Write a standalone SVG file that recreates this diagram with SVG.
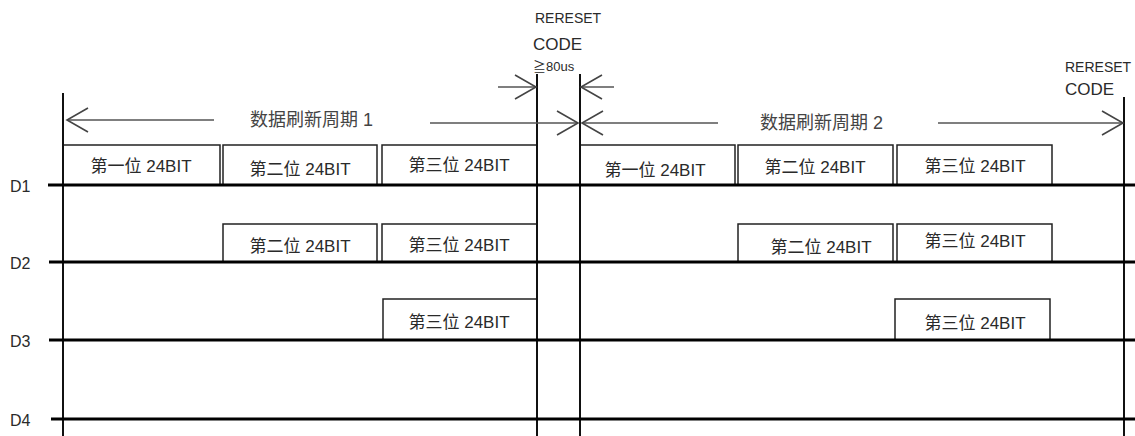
<svg xmlns="http://www.w3.org/2000/svg" width="1135" height="436" viewBox="0 0 1135 436">
<style>
text{font-family:'Liberation Sans','Noto Sans CJK SC',sans-serif;fill:#2a2a2a}
.bx{font-size:17px;text-anchor:middle}
.lbl{font-size:18px;fill:#444}
.dl{font-size:16px}
.box{fill:#fff;stroke:#222;stroke-width:1.5}
.vl{stroke:#111;stroke-width:2;fill:none}
.hl{stroke:#000;stroke-width:3;fill:none}
.ar{stroke:#555;stroke-width:1.6;fill:none;marker-end:url(#ah)}
</style>
<defs>
<marker id="ah" markerUnits="userSpaceOnUse" viewBox="-23 -14 25 28" markerWidth="25" markerHeight="28" refX="0" refY="0" orient="auto">
<path d="M-21,-12 L0,0 L-21,12" fill="none" stroke="#444" stroke-width="1.6"/>
</marker>
</defs>
<rect width="1135" height="436" fill="#fff"/>

<g id="boxes-d1">
<path class="box" d="M63,185 V145 H220 V185"/>
<path class="box" d="M223,185 V145 H377 V185"/>
<path class="box" d="M382,185 V145 H537 V185"/>
<path class="box" d="M580,185 V145 H735 V185"/>
<path class="box" d="M738,185 V145 H893 V185"/>
<path class="box" d="M897,185 V145 H1052 V185"/>
</g>
<g id="boxes-d2">
<path class="box" d="M223,262 V224 H377 V262"/>
<path class="box" d="M382,262 V224 H537 V262"/>
<path class="box" d="M738,262 V224 H893 V262"/>
<path class="box" d="M897,262 V224 H1052 V262"/>
</g>
<g id="boxes-d3">
<path class="box" d="M383,340 V299 H537 V340"/>
<path class="box" d="M895,340 V299 H1050 V340"/>
</g>

<g id="connectors">
<line class="vl" x1="63" y1="93" x2="63" y2="436"/>
<line class="vl" x1="537" y1="74" x2="537" y2="436"/>
<line class="vl" x1="580" y1="74" x2="580" y2="436"/>
<line class="vl" x1="1124" y1="97" x2="1124" y2="436"/>
<line class="hl" x1="48" y1="185" x2="1135" y2="185"/>
<line class="hl" x1="49" y1="262" x2="1135" y2="262"/>
<line class="hl" x1="49" y1="340" x2="1135" y2="340"/>
<line class="hl" x1="51" y1="419" x2="1135" y2="419"/>
<line class="ar" x1="214" y1="120" x2="67" y2="120"/>
<line class="ar" x1="430" y1="123" x2="578" y2="123"/>
<line class="ar" x1="498" y1="87" x2="536" y2="87"/>
<line class="ar" x1="614" y1="87" x2="581" y2="87"/>
<line class="ar" x1="718" y1="123" x2="582" y2="123"/>
<line class="ar" x1="938" y1="123" x2="1123" y2="123"/>
</g>

<g id="labels">
<text class="dl" x="10" y="192">D1</text>
<text class="dl" x="10" y="269">D2</text>
<text class="dl" x="10" y="347">D3</text>
<text class="dl" x="10" y="426">D4</text>
<text class="lbl" x="250" y="126">数据刷新周期 1</text>
<text class="lbl" x="760" y="129">数据刷新周期 2</text>
<text x="535" y="23" font-size="14">RERESET</text>
<text x="533" y="50" font-size="17">CODE</text>
<text x="533" y="71" font-size="13">≧80us</text>
<text x="1065" y="72" font-size="14">RERESET</text>
<text x="1065" y="95" font-size="17">CODE</text>
</g>

<g id="box-texts">
<text class="bx" x="141" y="172">第一位 24BIT</text>
<text class="bx" x="300" y="175">第二位 24BIT</text>
<text class="bx" x="459" y="171">第三位 24BIT</text>
<text class="bx" x="655" y="176">第一位 24BIT</text>
<text class="bx" x="815" y="173">第二位 24BIT</text>
<text class="bx" x="975" y="172">第三位 24BIT</text>
<text class="bx" x="300" y="252">第二位 24BIT</text>
<text class="bx" x="459" y="251">第三位 24BIT</text>
<text class="bx" x="821" y="253">第二位 24BIT</text>
<text class="bx" x="975" y="247">第三位 24BIT</text>
<text class="bx" x="459" y="328">第三位 24BIT</text>
<text class="bx" x="975" y="329">第三位 24BIT</text>
</g>
</svg>
